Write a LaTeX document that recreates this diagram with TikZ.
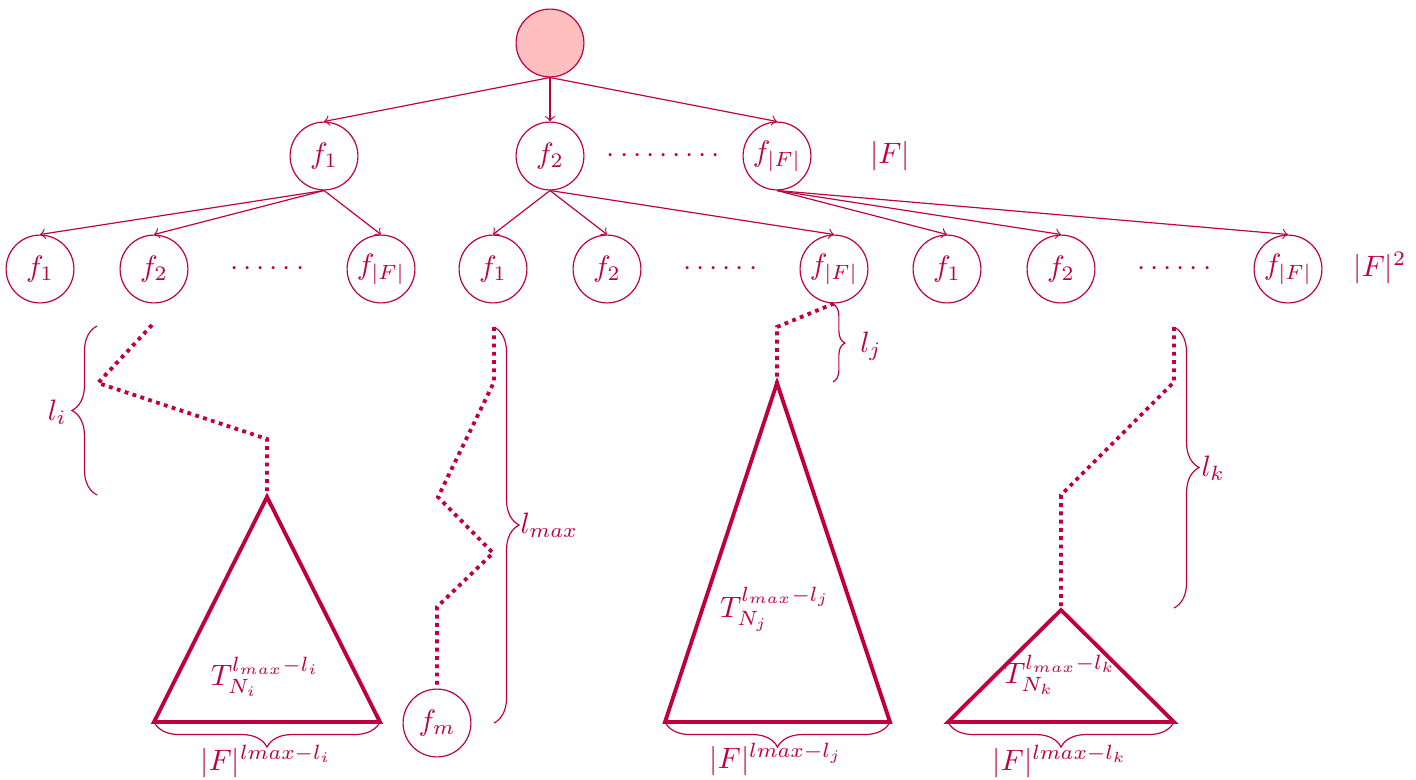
\documentclass[tikz,border=0pt]{standalone}
\usetikzlibrary{decorations.pathreplacing}
\definecolor{mp}{rgb}{0.75,0,0.25}
\begin{document}
\begin{tikzpicture}[x=0.339pt,y=-0.339pt,
  fnode/.style={circle,draw=mp,text=mp,minimum size=23pt,inner sep=1pt},
  rootnode/.style={circle,draw=mp,fill=red!25,minimum size=23pt,inner sep=0pt},
  edge/.style={draw=mp,->},
  dotpath/.style={draw=mp,line width=1.3pt,dash pattern=on 1.3pt off 1.5pt},
  tri/.style={draw=mp,line width=1.3pt},
  bracebig/.style={draw=mp,decorate,decoration={brace,amplitude=8.5pt}},
  bracesmall/.style={draw=mp,decorate,decoration={brace,amplitude=4pt}},
  lbl/.style={text=mp,inner sep=0pt}]
\useasboundingbox (0,0) rectangle (1416,779);
% nodes
\node[rootnode] (root) at (550,43) {};
\node[fnode] (a1) at (324,156) {$f_1$};
\node[fnode] (a2) at (550,156) {$f_2$};
\node[fnode] (a3) at (777,156) {$f_{|F|}$};
\node[lbl,anchor=base] (da) at (663.5,162) {$\cdots\cdots\cdots$};
\node[lbl,anchor=base] (nF) at (890,163) {$|F|$};
\node[fnode] (b1) at (40,269) {$f_1$};
\node[fnode] (b2) at (154,269) {$f_2$};
\node[fnode] (b3) at (381,269) {$f_{|F|}$};
\node[fnode] (c1) at (493,269) {$f_1$};
\node[fnode] (c2) at (607,269) {$f_2$};
\node[fnode] (c3) at (834,269) {$f_{|F|}$};
\node[fnode] (d1) at (947,269) {$f_1$};
\node[fnode] (d2) at (1061,269) {$f_2$};
\node[fnode] (d3) at (1288,269) {$f_{|F|}$};
\node[lbl,anchor=base] (db) at (267.5,275) {$\cdots\cdots$};
\node[lbl,anchor=base] (dc) at (720.5,275) {$\cdots\cdots$};
\node[lbl,anchor=base] (dd) at (1174.5,275) {$\cdots\cdots$};
\node[lbl,anchor=base west] (nF2) at (1353,276) {$|F|^2$};
\node[fnode] (fm) at (437,723) {$f_m$};
% edges
\foreach \c in {a1,a2,a3} \draw[edge] (root.south) -- (\c.north);
\foreach \c in {b1,b2,b3} \draw[edge] (a1.south) -- (\c.north);
\foreach \c in {c1,c2,c3} \draw[edge] (a2.south) -- (\c.north);
\foreach \c in {d1,d2,d3} \draw[edge] (a3.south) -- (\c.north);
% triangle apexes and bases
\coordinate (ti) at (267,497); \coordinate (til) at (154,722); \coordinate (tir) at (380,722);
\coordinate (tj) at (777,383); \coordinate (tjl) at (665,722); \coordinate (tjr) at (890,722);
\coordinate (tk) at (1061,610); \coordinate (tkl) at (948,722); \coordinate (tkr) at (1174,722);
\draw[tri] (ti) -- (til) -- (tir) -- cycle;
\draw[tri] (tj) -- (tjl) -- (tjr) -- cycle;
\draw[tri] (tk) -- (tkl) -- (tkr) -- cycle;
\node[lbl,anchor=base] (Ti) at (265,685) {$T_{N_i}^{l_{max}-l_i}$};
\node[lbl,anchor=base] (Tj) at (775,617) {$T_{N_j}^{l_{max}-l_j}$};
\node[lbl,anchor=base] (Tk) at (1060,683) {$T_{N_k}^{l_{max}-l_k}$};
% dotted paths
\coordinate (pi0) at (152,325); \coordinate (pi1) at (98,383); \coordinate (pi2) at (267,439);
\draw[dotpath] (pi0) -- (pi1) -- (pi2) -- (ti);
\coordinate (pm0) at (494,327); \coordinate (pm1) at (494,382); \coordinate (pm2) at (438,497);
\coordinate (pm3) at (493,553); \coordinate (pm4) at (437,607);
\draw[dotpath] (pm0) -- (pm1) -- (pm2) -- (pm3) -- (pm4) -- (fm.north);
\coordinate (pj1) at (777,327);
\draw[dotpath] (c3.south) -- (pj1) -- (tj);
\coordinate (pk0) at (1174,327); \coordinate (pk1) at (1174,382); \coordinate (pk2) at (1061,495);
\draw[dotpath] (pk0) -- (pk1) -- (pk2) -- (tk);
% braces
\coordinate (bi0) at (97,495); \coordinate (bi1) at (97,326);
\draw[bracebig] (bi0) -- (bi1);
\node[lbl,anchor=east] (li) at (67,412) {$l_i$};
\coordinate (bm1) at (494,723);
\draw[bracebig] (pm0) -- (bm1);
\node[lbl,anchor=west] (lm) at (520,525) {$l_{max}$};
\coordinate (bj0) at (833,304); \coordinate (bj1) at (833,382);
\draw[bracesmall] (bj0) -- (bj1);
\node[lbl] (lj) at (871,346) {$l_j$};
\coordinate (bk1) at (1174,608);
\draw[bracebig] (pk0) -- (bk1);
\node[lbl,anchor=west] (lk) at (1201,468) {$l_k$};
\draw[bracebig] (tir) -- (til);
\draw[bracebig] (tjr) -- (tjl);
\draw[bracebig] (tkr) -- (tkl);
\node[lbl,anchor=base] (Fi) at (266,770) {$|F|^{lmax-l_i}$};
\node[lbl,anchor=base] (Fj) at (776,768) {$|F|^{lmax-l_j}$};
\node[lbl,anchor=base] (Fk) at (1060,770) {$|F|^{lmax-l_k}$};
\end{tikzpicture}
\end{document}
